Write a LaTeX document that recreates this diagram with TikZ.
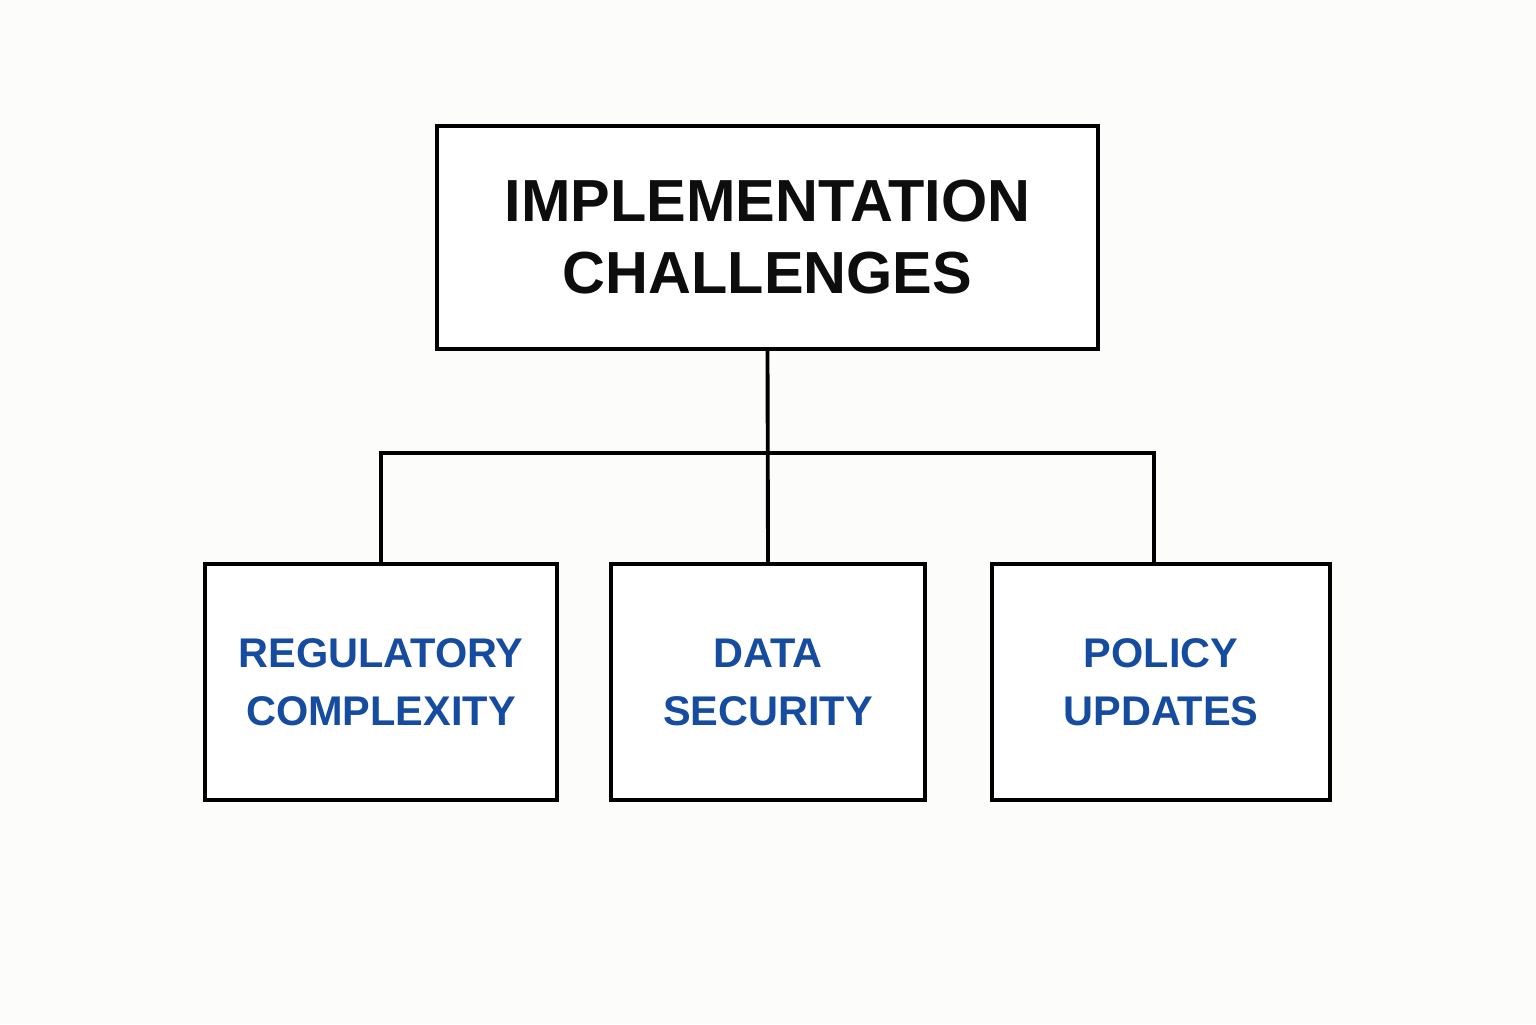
\documentclass[tikz,border=0pt]{standalone}
\usepackage{fontspec}
\setmainfont{Liberation Sans}
\definecolor{pagebg}{RGB}{252,252,250}
\definecolor{labelblue}{RGB}{22,76,160}

\begin{document}
\begin{tikzpicture}[%
scale=1,
topbox/.style={draw=black, line width=1.1pt, fill=white, minimum width=6.61cm, minimum height=2.23cm, align=center, font=\fontsize{16.9}{20.5}\selectfont\bfseries, text=black!95},
leafbox/.style={draw=black, line width=1.1pt, fill=white, minimum height=2.36cm, align=center, font=\fontsize{11.8}{16.5}\selectfont\bfseries, text=labelblue},
link/.style={draw=black, line width=1.1pt},
]
\useasboundingbox (0,0) rectangle (15.36,10.24);
\fill [pagebg] (0,0) rectangle (15.36,10.24);
%% root;
\node [topbox] (challenges) at (7.675,7.865) {IMPLEMENTATION\\CHALLENGES};
%% leaves;
\node [leafbox, minimum width=3.52cm] (regulatory) at (3.81,3.42) {REGULATORY\\COMPLEXITY};
\node [leafbox, minimum width=3.14cm] (security) at (7.68,3.42) {DATA\\SECURITY};
\node [leafbox, minimum width=3.38cm] (policy) at (11.61,3.42) {POLICY\\UPDATES};
%% branch point;
\coordinate (split) at (7.68,5.71);
%% links;
\draw [link] (challenges.south) -- (security.north);
\draw [link] (regulatory.north) |- (split) -| ([xshift=-0.07cm]policy.north);
\end{tikzpicture}
\end{document}
